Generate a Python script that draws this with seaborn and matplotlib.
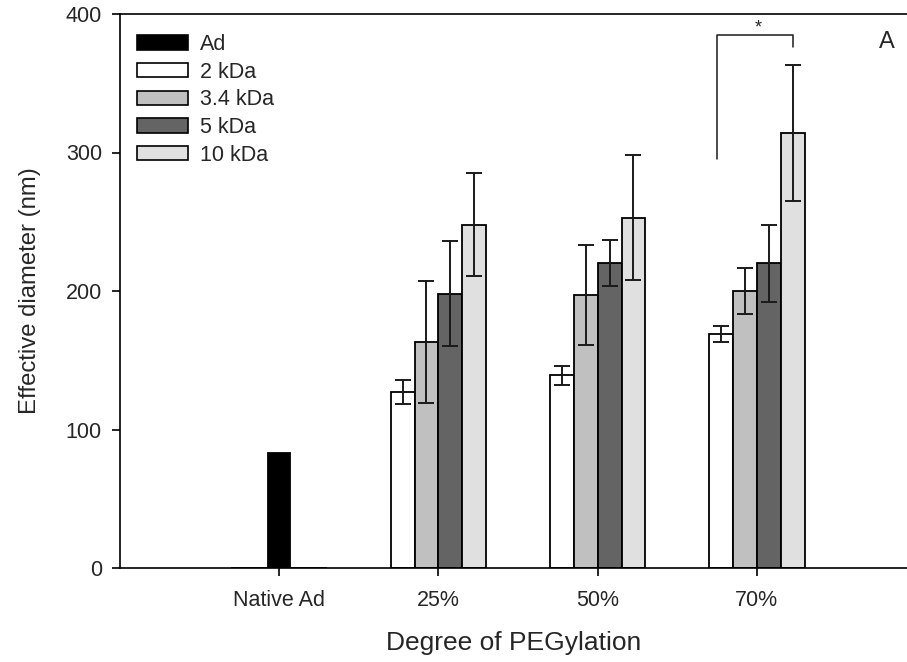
import numpy as np
import pandas as pd
import matplotlib
matplotlib.use("Agg")
import matplotlib.pyplot as plt
import seaborn as sns
from matplotlib.patches import Patch

# ---- data ----
groups = ["Native Ad", "25%", "50%", "70%"]
series = ["2 kDa", "3.4 kDa", "5 kDa", "10 kDa"]
ad_value = 83
vals_2 = [0, 127, 139, 169]
vals_34 = [0, 163, 197, 200]
vals_5 = [0, 198, 220, 220]
vals_10 = [0, 248, 253, 314]
err_2 = [0, 8.5, 7, 6]
err_34 = [0, 44, 36, 16.5]
err_5 = [0, 38, 16.5, 28]
err_10 = [0, 37, 45, 49]
colors = ["#ffffff", "#c0c0c0", "#646464", "#e0e0e0"]
ad_color = "#000000"

sns.set_theme(style="ticks")
plt.rcParams["font.family"] = ["Liberation Sans", "DejaVu Sans"]

all_vals = [vals_2, vals_34, vals_5, vals_10]
all_errs = [err_2, err_34, err_5, err_10]
df = pd.DataFrame({
    "group": [g for s in series for g in groups],
    "series": [s for s in series for g in groups],
    "value": [v for vs in all_vals for v in vs],
})
df_ad = pd.DataFrame({"group": ["Native Ad"], "value": [ad_value]})

fig = plt.figure(figsize=(9.07, 6.62), dpi=100)
ax = fig.add_axes([120 / 907, 1 - 568 / 662, 787 / 907, (568 - 14) / 662])

sns.barplot(data=df, x="group", y="value", hue="series", order=groups,
            hue_order=series, palette=colors, width=0.6, errorbar=None,
            edgecolor="black", linewidth=1.3, ax=ax, legend=False, saturation=1)
sns.barplot(data=df_ad, x="group", y="value", order=groups, color=ad_color,
            width=0.14, errorbar=None, edgecolor="black", linewidth=1.3, ax=ax,
            saturation=1)

# error bars
for cont, vs, es in zip(ax.containers[:4], all_vals, all_errs):
    xs = [b.get_x() + b.get_width() / 2 for b in cont]
    sel = [i for i, e in enumerate(es) if e > 0]
    ax.errorbar([xs[i] for i in sel], [vs[i] for i in sel],
                yerr=[es[i] for i in sel], fmt="none", ecolor="#1a1a1a",
                elinewidth=1.4, capsize=5.6, capthick=1.4, zorder=5)

ax.set_xlim(-1.0, 3.943)
ax.set_ylim(0, 400)
ax.set_yticks([0, 100, 200, 300, 400])
ax.set_xlabel("Degree of PEGylation", fontsize=19, labelpad=14)
ax.set_ylabel("Effective diameter (nm)", fontsize=17.2, labelpad=18)
ax.tick_params(axis="both", labelsize=15.5, direction="out", length=6,
               width=1.2, color="black")
ax.tick_params(axis="x", pad=10)
ax.tick_params(axis="y", pad=7)
for s in ["left", "bottom", "top"]:
    ax.spines[s].set_linewidth(1.2)
    ax.spines[s].set_color("black")
ax.spines["right"].set_visible(False)

# significance bracket
ax.plot([2.748, 2.748, 3.226, 3.226], [295, 385, 385, 376], color="#1a1a1a",
        lw=1.1)
ax.text(3.006, 384, "*", ha="center", va="bottom", fontsize=13)
ax.text(0.975, 0.949, "A", transform=ax.transAxes, ha="center", va="center",
        fontsize=17)

handles = [Patch(facecolor=ad_color, edgecolor="black", linewidth=1.2, label="Ad")]
handles += [Patch(facecolor=c, edgecolor="black", linewidth=1.2, label=s)
            for c, s in zip(colors, series)]
ax.legend(handles=handles, loc="upper left", bbox_to_anchor=(0.0, 0.995),
          frameon=False, fontsize=15.5, handlelength=2.35, handleheight=0.65,
          labelspacing=0.31, handletextpad=0.55, borderaxespad=0.3,
          borderpad=0.5)

fig.savefig("out.png", dpi=100)
